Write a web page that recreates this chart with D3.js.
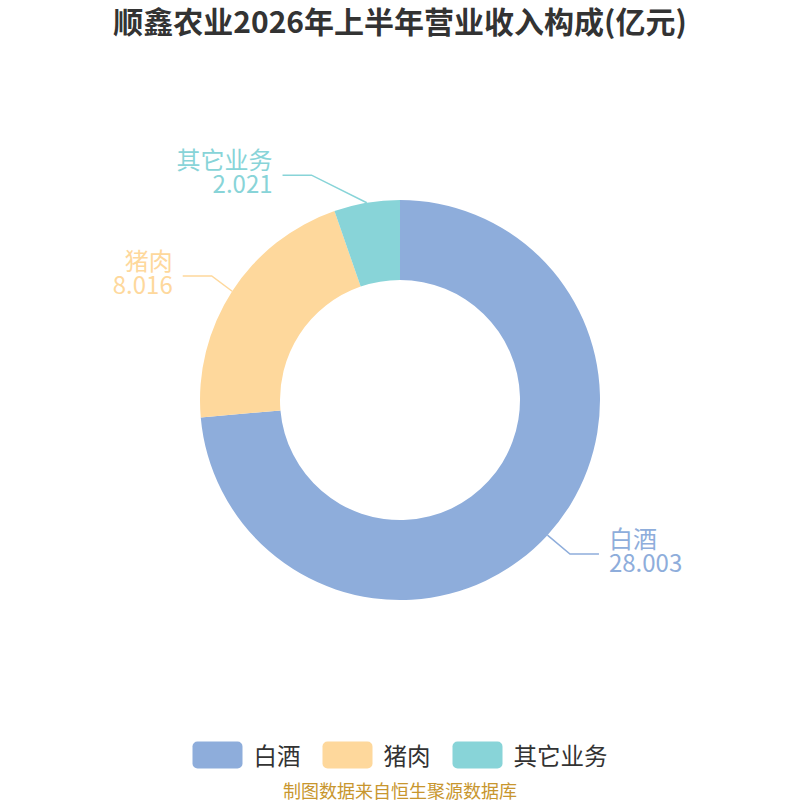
<!DOCTYPE html>
<html>
<head>
<meta charset="utf-8">
<script src="https://cdn.jsdelivr.net/npm/d3@7"></script>
<style>
  body { margin: 0; background: #fff; }
  svg { display: block; font-family: "Noto Sans CJK SC", "Noto Sans", sans-serif; }
</style>
</head>
<body>
<div id="chart"></div>
<script>
// chart data
const categories = ["白酒", "猪肉", "其它业务"];
const revenue = [28.003, 8.016, 2.021];
const sliceColors = ["#8eaddb", "#fed89c", "#88d4d8"];
const chartTitle = "顺鑫农业2026年上半年营业收入构成(亿元)";
const sourceNote = "制图数据来自恒生聚源数据库";

const width = 800, height = 800;
const cx = 400, cy = 400;
const outerR = 200, innerR = 120;
// label line: elbow height from a circle, elbow x from a wider ellipse, then a flat run
const elbowR = 228, labelRx = 218, labelRy = 246, runLen = 29;

const data = categories.map((name, i) => ({ name, value: revenue[i], color: sliceColors[i] }));

const svg = d3.select("#chart").append("svg")
  .attr("width", width)
  .attr("height", height);

svg.append("text")
  .attr("x", width / 2)
  .attr("y", 25)
  .attr("text-anchor", "middle")
  .attr("dominant-baseline", "middle")
  .attr("font-size", 30)
  .attr("font-weight", "bold")
  .attr("fill", "#333")
  .text(chartTitle);

const pie = d3.pie().sort(null).value(d => d.value);
const arc = d3.arc().innerRadius(innerR).outerRadius(outerR);
const pieData = pie(data);

const g = svg.append("g").attr("transform", `translate(${cx},${cy})`);

g.selectAll("path")
  .data(pieData)
  .join("path")
  .attr("fill", d => d.data.color)
  .attr("d", arc);

// work out the label line points for each slice
function labelPoints(d) {
  const a = (d.startAngle + d.endAngle) / 2;
  const sx = Math.sin(a), sy = -Math.cos(a);
  const p0 = [sx * outerR, sy * outerR];
  const ey = sy * elbowR;
  const side = sx >= 0 ? 1 : -1;
  const ex = side * labelRx * Math.sqrt(Math.max(0, 1 - (ey / labelRy) ** 2));
  const p2 = [ex + side * runLen, ey];
  return { p0, p1: [ex, ey], p2, side };
}

const labels = g.append("g")
  .selectAll("g")
  .data(pieData)
  .join("g");

labels.append("polyline")
  .attr("fill", "none")
  .attr("stroke", d => d.data.color)
  .attr("stroke-width", 1.5)
  .attr("points", d => {
    const p = labelPoints(d);
    return [p.p0, p.p1, p.p2].map(q => q.join(",")).join(" ");
  });

labels.append("text")
  .attr("fill", d => d.data.color)
  .attr("font-size", 24)
  .attr("text-anchor", d => labelPoints(d).side > 0 ? "start" : "end")
  .call(text => {
    text.append("tspan")
      .attr("x", d => { const p = labelPoints(d); return p.p2[0] + p.side * 10; })
      .attr("y", d => labelPoints(d).p2[1] - 6)
      .text(d => d.data.name);
    text.append("tspan")
      .attr("x", d => { const p = labelPoints(d); return p.p2[0] + p.side * 10; })
      .attr("y", d => labelPoints(d).p2[1] + 18)
      .text(d => d.data.value.toFixed(3));
  });

// legend
const legend = svg.append("g");
const items = legend.selectAll("g")
  .data(data)
  .join("g");

items.append("rect")
  .attr("width", 50)
  .attr("height", 27)
  .attr("rx", 5)
  .attr("y", -13.5)
  .attr("fill", d => d.color);

items.append("text")
  .attr("x", 61)
  .attr("dominant-baseline", "central")
  .attr("font-size", 23.5)
  .attr("fill", "#333")
  .text(d => d.name);

let offset = 0;
items.each(function () {
  const w = d3.select(this).select("text").node().getComputedTextLength() + 61;
  d3.select(this).attr("transform", `translate(${offset},0)`);
  offset += w + 22;
});
const legendW = offset - 22;
legend.attr("transform", `translate(${(width - legendW) / 2},755)`);

svg.append("text")
  .attr("x", width / 2)
  .attr("y", 790)
  .attr("text-anchor", "middle")
  .attr("dominant-baseline", "central")
  .attr("font-size", 18)
  .attr("fill", "#c8962e")
  .text(sourceNote);
</script>
</body>
</html>
